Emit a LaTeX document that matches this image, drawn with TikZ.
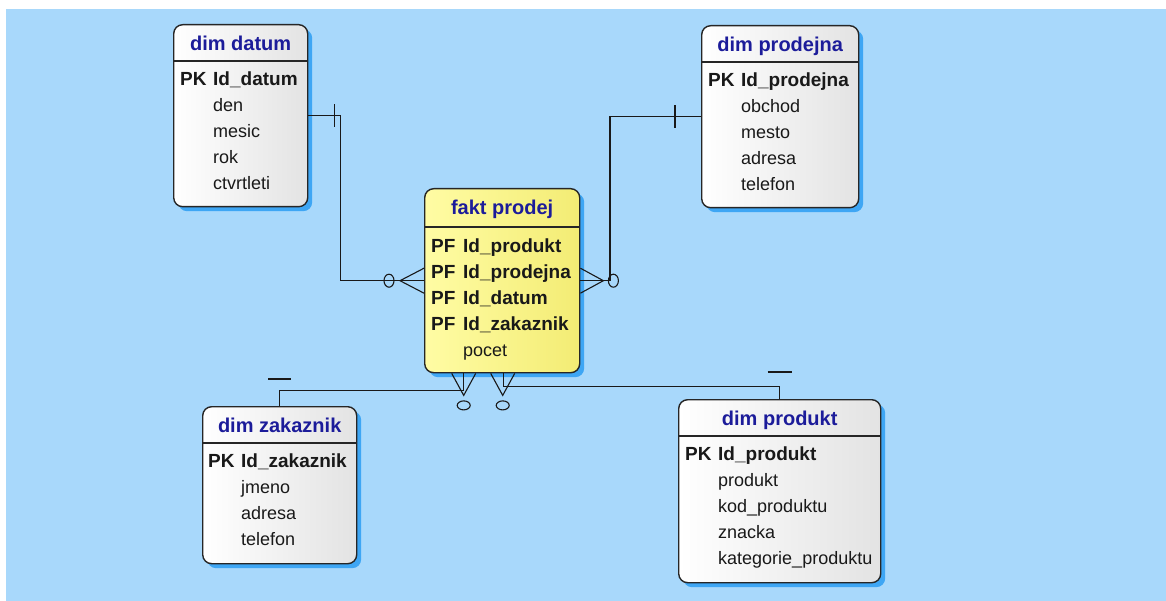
\documentclass[tikz,border=0pt]{standalone}
\usepackage{fontspec}
\setmainfont{Liberation Sans}
\usetikzlibrary{calc,shadows}
\definecolor{bgblue}{HTML}{A8D8FB}
\definecolor{shadowblue}{HTML}{3EA6F4}
\definecolor{titlecol}{HTML}{1C1C9A}
\definecolor{faktlight}{HTML}{FFFCA4}
\definecolor{faktdark}{HTML}{F3EC74}
\definecolor{dimdark}{HTML}{E3E3E3}
\newcommand{\key}[1]{{\fontsize{19}{26}\selectfont\bfseries #1}}

\begin{document}
\begin{tikzpicture}[x=1pt,y=-1pt,
  ent/.style={draw=black!85,line width=1.4pt,rounded corners=9pt,anchor=north west,
              left color=white,right color=dimdark,
              general shadow={fill=shadowblue,shadow xshift=4.5pt,shadow yshift=-4.5pt}},
  fakt/.style={ent,left color=faktlight,right color=faktdark},
  sep/.style={line width=1.4pt,black!85},
  ttl/.style={font=\fontsize{20}{24}\selectfont\bfseries,text=titlecol,inner sep=0pt,anchor=base},
  rows/.style={font=\fontsize{18}{26}\selectfont,text=black!90,anchor=north west,inner sep=0pt},
  rel/.style={line width=1.5pt,black!90},
  opt/.style={line width=1.1pt,black!90},
]
\useasboundingbox (0,0) rectangle (1166,601);
\fill[white] (0,0) rectangle (1166,601);
\fill[bgblue] (6,9) rectangle (1166,601);

% entities
\node[ent,minimum width=134pt,minimum height=182pt] (datum) at (173,24) {};
\node[ent,minimum width=157pt,minimum height=182pt] (prodejna) at (701,25) {};
\node[fakt,minimum width=155pt,minimum height=184pt] (fakt) at (424,188) {};
\node[ent,minimum width=154pt,minimum height=157pt] (zakaznik) at (202,406) {};
\node[ent,minimum width=202pt,minimum height=183pt] (produkt) at (678,399) {};

\draw[sep] ([yshift=-37pt]datum.north west) -- ([yshift=-37pt]datum.north east);
\draw[sep] ([yshift=-37pt]prodejna.north west) -- ([yshift=-37pt]prodejna.north east);
\draw[sep] ([yshift=-39pt]fakt.north west) -- ([yshift=-39pt]fakt.north east);
\draw[sep] ([yshift=-37pt]zakaznik.north west) -- ([yshift=-37pt]zakaznik.north east);
\draw[sep] ([yshift=-37pt]produkt.north west) -- ([yshift=-37pt]produkt.north east);

\node[ttl] (datumT) at ([yshift=-26.5pt]datum.north) {dim datum};
\node[ttl] (prodejnaT) at ([yshift=-26.5pt]prodejna.north) {dim prodejna};
\node[ttl] (faktT) at ([yshift=-27pt]fakt.north) {fakt prodej};
\node[ttl] (zakaznikT) at ([yshift=-26.5pt]zakaznik.north) {dim zakaznik};
\node[ttl] (produktT) at ([yshift=-26.5pt]produkt.north) {dim produkt};

\node[rows] (datumR) at ([shift={(7pt,-43pt)}]datum.north west)
  {\begin{tabular}{@{}p{33pt}@{}l@{}}
   \key{PK} & \key{Id\_datum}\\ & den\\ & mesic\\ & rok\\ & ctvrtleti
   \end{tabular}};
\node[rows] (prodejnaR) at ([shift={(7pt,-43pt)}]prodejna.north west)
  {\begin{tabular}{@{}p{33pt}@{}l@{}}
   \key{PK} & \key{Id\_prodejna}\\ & obchod\\ & mesto\\ & adresa\\ & telefon
   \end{tabular}};
\node[rows] (faktR) at ([shift={(7pt,-46pt)}]fakt.north west)
  {\begin{tabular}{@{}p{32pt}@{}l@{}}
   \key{PF} & \key{Id\_produkt}\\ \key{PF} & \key{Id\_prodejna}\\
   \key{PF} & \key{Id\_datum}\\ \key{PF} & \key{Id\_zakaznik}\\ & pocet
   \end{tabular}};
\node[rows] (zakaznikR) at ([shift={(6pt,-43pt)}]zakaznik.north west)
  {\begin{tabular}{@{}p{33pt}@{}l@{}}
   \key{PK} & \key{Id\_zakaznik}\\ & jmeno\\ & adresa\\ & telefon
   \end{tabular}};
\node[rows] (produktR) at ([shift={(7pt,-43pt)}]produkt.north west)
  {\begin{tabular}{@{}p{33pt}@{}l@{}}
   \key{PK} & \key{Id\_produkt}\\ & produkt\\ & kod\_produktu\\ & znacka\\ & kategorie\_produktu
   \end{tabular}};

% relationships
\draw[rel] (datum.east) -- ++(32,0) |- (fakt.west);
\draw[rel] (prodejna.west) -- ++(-91,0) |- (fakt.east);
\draw[rel] ([xshift=-38.5pt]fakt.south) -- ++(0,17) -| (zakaznik.north);
\draw[rel] ([xshift=1.5pt]fakt.south) -- ++(0,13) -| (produkt.north);

% one ends
\draw[rel] (datum.east) ++(26,-11.5) -- ++(0,23);
\draw[rel] (prodejna.west) ++(-26,-11.5) -- ++(0,23);
\draw[rel] (zakaznik.north) ++(-11.5,-27) -- ++(23,0);
\draw[rel] (produkt.north) ++(-12,-27) -- ++(24,0);

% zero or many ends
\draw[opt] (fakt.west) ++(0,-12.5) -- ++(-24,12.5) -- ++(24,12.5);
\draw[opt] (fakt.west) ++(-35,0) ellipse [x radius=5pt,y radius=6.5pt];
\draw[opt] (fakt.east) ++(0,-12.5) -- ++(23,12.5) -- ++(-23,12.5);
\draw[opt] (fakt.east) ++(33,0) ellipse [x radius=5pt,y radius=6.5pt];
\draw[opt] (fakt.south) ++(-50.5,0) -- ++(12,22) -- ++(12,-22);
\draw[opt] (fakt.south) ++(-38.5,32) ellipse [x radius=6.5pt,y radius=4.5pt];
\draw[opt] (fakt.south) ++(-11.5,0) -- ++(12,22) -- ++(12,-22);
\draw[opt] (fakt.south) ++(0.5,32) ellipse [x radius=6.5pt,y radius=4.5pt];
\end{tikzpicture}
\end{document}
